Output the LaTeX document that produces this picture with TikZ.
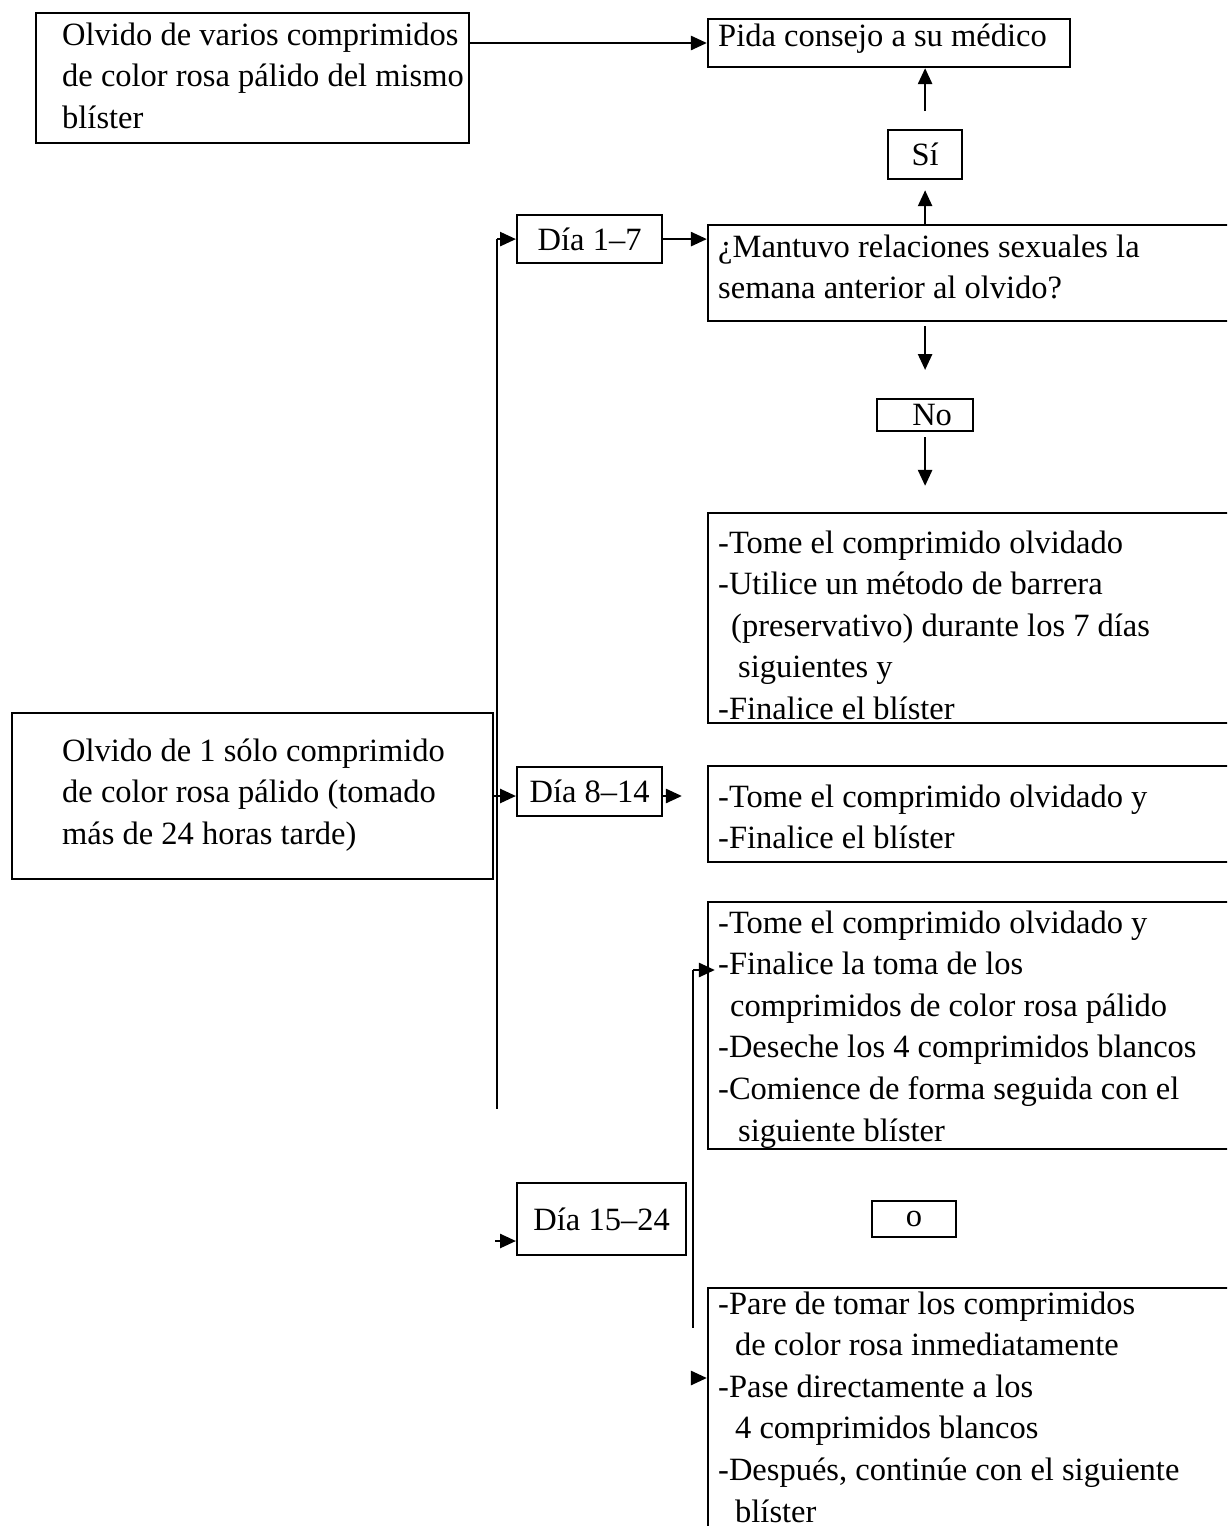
\documentclass[tikz,border=0pt]{standalone}
\usepackage{fontspec}
\setmainfont{Liberation Serif}
\usepackage{tikz}
\usetikzlibrary{arrows.meta,positioning,calc,fit}
\newcommand{\boxlines}[1]{\begin{tabular}[t]{@{}l@{}}#1\end{tabular}}

\begin{document}
\begin{tikzpicture}[x=1pt,y=-1pt,>={Triangle[length=16pt,width=14pt]},
  every node/.style={font=\fontsize{32.5}{41.6}\selectfont},
  frame/.style={draw,line width=2.2pt,inner sep=0pt,fit={#1}},
  tag/.style={draw,line width=2.2pt,inner sep=0pt,anchor=north west},
  txt/.style={anchor=base west,inner sep=0pt},
  arr/.style={->,line width=2.6pt}]
  \useasboundingbox (0,0) rectangle (1227,1526);
  \clip (0,0) rectangle (1227,1526);

  % boxes
  \node[frame={(36,13) (469,143)}] (optA) {};
  \node[frame={(708,19) (1070,67)}] (pida) {};
  \node[frame={(708,225) (1240,321)}] (ask) {};
  \node[frame={(708,513) (1240,723)}] (tome) {};
  \node[frame={(12,713) (493,879)}] (optB) {};
  \node[frame={(708,766) (1240,862)}] (cont) {};
  \node[frame={(708,902) (1240,1149)}] (late) {};
  \node[frame={(708,1288) (1240,1560)}] (stop) {};

  \node[txt] (optAtxt) at (62,45) {\boxlines{Olvido de varios comprimidos\\de color rosa pálido del mismo\\blíster}};
  \node[txt] (pidatxt) at (718,46) {Pida consejo a su médico};
  \node[txt] (asktxt) at (718,257) {\boxlines{¿Mantuvo relaciones sexuales la\\semana anterior al olvido?}};
  \node[txt] (tometxt) at (718,553) {\boxlines{-Tome el comprimido olvidado\\-Utilice un método de barrera\\\hspace*{13pt}(preservativo) durante los 7 días\\\hspace*{20pt}siguientes y\\-Finalice el blíster}};
  \node[txt] (optBtxt) at (62,761) {\boxlines{Olvido de 1 sólo comprimido\\de color rosa pálido (tomado\\más de 24 horas tarde)}};
  \node[txt] (conttxt) at (718,807) {\boxlines{-Tome el comprimido olvidado y\\-Finalice el blíster}};
  \node[txt] (latetxt) at (718,933) {\boxlines{-Tome el comprimido olvidado y\\-Finalice la toma de los\\\hspace*{12pt}comprimidos de color rosa pálido\\-Deseche los 4 comprimidos blancos\\-Comience de forma seguida con el\\\hspace*{20pt}siguiente blíster}};
  \node[txt] (stoptxt) at (718,1314) {\boxlines{-Pare de tomar los comprimidos\\\hspace*{17pt}de color rosa inmediatamente\\-Pase directamente a los\\\hspace*{17pt}4 comprimidos blancos\\-Después, continúe con el siguiente\\\hspace*{17pt}blíster}};

  \node[tag,minimum width=74pt,minimum height=49pt] (yes) at (887,129) {Sí};
  \node[tag,minimum width=96pt,minimum height=32pt] (no) at (876,398) {\hspace*{14pt}No};
  \node[tag,minimum width=84pt,minimum height=36pt] (ou) at (871,1200) {o};
  \node[tag,minimum width=145pt,minimum height=48pt] (d1) at (516,214) {Día 1–7};
  \node[tag,minimum width=145pt,minimum height=49pt] (d2) at (516,766) {Día 8–14};
  \node[tag,minimum width=169pt,minimum height=72pt] (d3) at (516,1182) {Día 15–24};

  \coordinate (spinebot) at (497,1109);
  \coordinate (spine2top) at (693,970);
  \coordinate (spine2bot) at (693,1328);
  \coordinate (d3in) at (495,1241);
  \coordinate (stopin) at (691,1378);

  % connectors
  \draw[arr] (pida.west -| optA.east) -- (pida.west);
  \draw[arr] ([yshift=18pt]yes.north) -- (yes.north |- pida.south);
  \draw[arr] (yes.south |- ask.north) -- ([yshift=-10pt]yes.south);
  \draw[arr] ([yshift=-4pt]no.north |- ask.south) -- ([yshift=28pt]no.north);
  \draw[arr] ([yshift=-5pt]no.south) -- ([yshift=26pt]no.south |- tome.north);
  \draw[line width=2.2pt] (d1.west -| spinebot) -- (spinebot);
  \draw[arr] (d1.west -| spinebot) -- (d1.west);
  \draw[arr] (d1.east) -- (d1.east -| ask.west);
  \draw[arr] (optB.east) -- (optB.east -| d2.west);
  \draw[arr] (optB.east -| d2.east) -- ([xshift=-25pt]optB.east -| cont.west);
  \draw[arr] (d3in) -- (d3in -| d3.west);
  \draw[line width=2.2pt] (spine2top) -- (spine2bot);
  \draw[arr] (spine2top) -- ([xshift=8pt]spine2top -| late.west);
  \draw[arr] (stopin) -- (stopin -| stop.west);
\end{tikzpicture}
\end{document}
